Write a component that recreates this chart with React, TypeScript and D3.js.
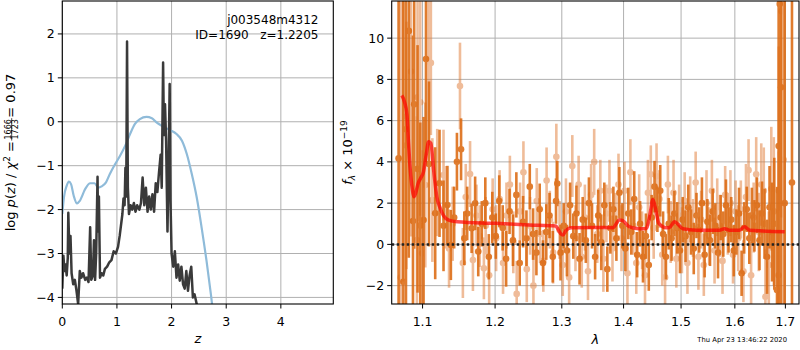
import { useEffect, useRef } from "react";
import * as d3 from "d3";

const W = 800;
const H = 350;
const FONT = "DejaVu Sans, sans-serif";

// p(z) 패널 — 파란선 (log p(z))
const pzZ = [0, 0.03, 0.08, 0.12, 0.16, 0.21, 0.27, 0.32, 0.42, 0.51, 0.59, 0.66, 0.72, 0.8, 0.87, 0.96, 1.06, 1.15, 1.24, 1.33, 1.42, 1.54, 1.64, 1.73, 1.85, 1.97, 2.09, 2.19, 2.28, 2.37, 2.46, 2.55, 2.64, 2.72, 2.77];
const pzLog = [-2.1, -1.72, -1.46, -1.36, -1.42, -1.69, -1.86, -1.8, -1.53, -1.4, -1.4, -1.5, -1.47, -1.38, -1.19, -0.98, -0.77, -0.55, -0.28, -0.05, 0.06, 0.11, 0.08, -0.02, -0.11, -0.19, -0.28, -0.43, -0.74, -1.19, -1.72, -2.41, -3.17, -3.93, -4.46];

// 검은선 (chi2 기반)
const chiZ = [0, 0.02, 0.04, 0.06, 0.08, 0.1, 0.11, 0.13, 0.15, 0.17, 0.2, 0.23, 0.26, 0.29, 0.32, 0.35, 0.38, 0.42, 0.45, 0.48, 0.51, 0.53, 0.56, 0.58, 0.6, 0.62, 0.645, 0.655, 0.67, 0.69, 0.72, 0.75, 0.78, 0.82, 0.86, 0.9, 0.94, 0.98, 1.02, 1.05, 1.08, 1.1, 1.12, 1.14, 1.155, 1.17, 1.185, 1.2, 1.22, 1.25, 1.28, 1.31, 1.34, 1.37, 1.41, 1.44, 1.47, 1.5, 1.53, 1.56, 1.59, 1.62, 1.65, 1.68, 1.71, 1.74, 1.77, 1.8, 1.82, 1.845, 1.86, 1.88, 1.9, 1.925, 1.945, 1.965, 1.98, 2.0, 2.03, 2.06, 2.09, 2.12, 2.15, 2.18, 2.21, 2.24, 2.27, 2.3, 2.33, 2.36, 2.39, 2.42, 2.46, 2.5];
const chiLog = [-3.8, -3.05, -3.4, -3.25, -3.5, -3.1, -2.07, -3.0, -2.6, -3.45, -3.7, -3.6, -3.85, -4.15, -3.4, -3.55, -3.45, -3.6, -3.55, -3.65, -2.4, -3.6, -3.5, -2.7, -3.6, -3.0, -1.25, -2.5, -1.7, -3.55, -3.45, -3.5, -3.35, -3.3, -3.2, -3.15, -2.95, -3.0, -2.85, -2.6, -2.3, -2.1, -1.75, -1.9, -1.05, -1.7, 1.83, -1.5, -2.1, -1.9, -2.0, -1.85, -2.05, -1.9, -2.0, -1.85, -1.27, -1.9, -1.5, -2.05, -1.7, -2.0, -1.65, -2.05, -1.4, -1.6, -1.15, -0.75, -1.5, 1.35, -0.3, 0.4, -0.45, -2.5, -1.0, 0.86, -1.8, -3.0, -3.3, -2.95, -3.55, -3.25, -3.62, -3.3, -3.7, -3.8, -3.4, -3.85, -3.5, -3.3, -4.0, -3.93, -4.15, -4.4];

const zTicks = [0, 1, 2, 3, 4];
const logTicks = [-4, -3, -2, -1, 0, 1, 2];

// 스펙트럼 패널 — 모델 (빨간선)
const modelWave = [1.073, 1.0765, 1.0796, 1.0815, 1.0835, 1.0865, 1.0885, 1.091, 1.0945, 1.0973, 1.1013, 1.105, 1.108, 1.111, 1.1147, 1.119, 1.1235, 1.128, 1.135, 1.1466, 1.2006, 1.2497, 1.2903, 1.298, 1.3016, 1.3068, 1.3146, 1.3548, 1.3821, 1.3932, 1.3988, 1.41, 1.427, 1.4385, 1.4454, 1.45, 1.4547, 1.4605, 1.4734, 1.4793, 1.4882, 1.4942, 1.5032, 1.5275, 1.5708, 1.5803, 1.5898, 1.609, 1.6187, 1.6284, 1.6546, 1.6985];
const modelFlux = [7.23, 6.9, 6.28, 5.0, 3.8, 2.7, 2.31, 2.5, 3.0, 3.2, 3.53, 4.4, 4.98, 4.9, 3.6, 2.3, 1.76, 1.4, 1.18, 1.1, 1.02, 0.94, 0.89, 0.53, 0.45, 0.69, 0.81, 0.82, 0.81, 1.18, 1.15, 0.85, 0.76, 0.77, 1.5, 2.18, 1.74, 1.02, 0.81, 0.82, 1.1, 0.98, 0.76, 0.69, 0.69, 0.76, 0.69, 0.69, 0.85, 0.69, 0.65, 0.61];

// 데이터 점 [λ, flux, err] — 진한 주황
const darkPoints: [number, number, number][] = [
  [1.0688, 4.17, 16], [1.0749, -1.81, 14], [1.0783, 5.58, 12], [1.082, 10.35, 11], [1.0874, 1.13, 9], [1.089, 6.79, 7],
  [1.0934, 3.66, 6], [1.097, 0.91, 5], [1.1013, 1.18, 5], [1.1045, 8.99, 5], [1.1085, 3.9, 4], [1.1168, 1.51, 3.2],
  [1.1226, 2.96, 2.6], [1.128, 0.9, 2.2], [1.1333, 1.91, 1.9], [1.138, -0.03, 1.7], [1.1425, 1.3, 1.5], [1.1463, 4.01, 1.4],
  [1.152, 4.61, 1.5], [1.1565, 0.3, 1.3], [1.1605, 1.5, 1.3], [1.1667, 0.78, 1.2], [1.1716, 1.99, 1.3], [1.176, -0.35, 1.2],
  [1.181, 1.0, 1.1], [1.186, 2.0, 1.25], [1.191, -0.6, 1.1], [1.196, 1.3, 1.25], [1.201, 0.4, 1.1], [1.206, 2.1, 1.25],
  [1.211, 0.8, 1.1], [1.216, -0.7, 1.35], [1.221, 1.6, 1.1], [1.226, 0.2, 1.25], [1.231, 2.4, 1.1], [1.236, -0.9, 1.1],
  [1.241, 1.1, 1.25], [1.246, 0.3, 1.35], [1.251, 2.8, 1.1], [1.256, 0.5, 1.25], [1.261, -0.4, 1.1], [1.266, 1.7, 1.25],
  [1.271, -0.9, 1.1], [1.276, 0.6, 1.35], [1.281, 1.4, 1.1], [1.286, -0.6, 1.25], [1.291, 2.1, 1.1], [1.293, 2.95, 1.1],
  [1.298, -0.4, 1.35], [1.303, 0.9, 1.1], [1.308, -0.3, 1.25], [1.313, 1.9, 1.1], [1.318, 0.4, 1.1], [1.323, 1.5, 1.35],
  [1.328, -0.7, 1.25], [1.333, 1.2, 1.1], [1.338, 0.2, 1.1], [1.343, 2.0, 1.25], [1.348, 0.9, 1.1], [1.353, -0.6, 1.1],
  [1.358, 1.4, 1.25], [1.363, 0.1, 1.35], [1.368, 1.9, 1.1], [1.373, -1.2, 1.1], [1.378, 0.8, 1.25], [1.383, 1.7, 1.1],
  [1.388, 0.3, 1.1], [1.393, 2.5, 1.25], [1.398, 0.9, 1.1], [1.403, -0.2, 1.1], [1.408, 1.5, 1.25], [1.413, 0.6, 1.1],
  [1.418, 2.2, 1.35], [1.423, -0.5, 1.1], [1.428, 1.0, 1.1], [1.433, -0.6, 1.25], [1.438, 0.4, 1.1], [1.443, -1.0, 1.25],
  [1.448, 1.3, 1.1], [1.453, 2.8, 1.25], [1.458, 1.7, 1.1], [1.463, 2.6, 1.25], [1.468, 0.5, 1.1], [1.473, -0.6, 1.1],
  [1.478, 1.0, 1.25], [1.483, 0.3, 1.1], [1.488, 1.5, 1.1], [1.493, 0.8, 1.25], [1.498, -0.3, 1.1], [1.503, 1.2, 1.1],
  [1.508, 0.4, 1.25], [1.513, 1.8, 1.1], [1.518, 0.6, 1.1], [1.523, -0.2, 1.25], [1.528, 1.4, 1.1], [1.533, 0.7, 1.1],
  [1.538, 2.0, 1.25], [1.543, -0.5, 1.1], [1.548, 1.1, 1.1], [1.553, 0.2, 1.25], [1.558, 1.6, 1.1], [1.563, 0.9, 1.1],
  [1.568, -0.4, 1.25], [1.573, 1.3, 1.1], [1.578, 0.5, 1.1], [1.583, 1.9, 1.25], [1.588, 0.7, 1.1], [1.593, 1.2, 1.1],
  [1.598, -0.3, 1.25], [1.603, 0.6, 1.1], [1.608, 1.5, 1.25], [1.613, -1.4, 1.1], [1.618, 0.8, 1.25], [1.623, 1.7, 1.1],
  [1.628, 0.3, 1.25], [1.633, 1.4, 1.35], [1.638, 0.9, 1.25], [1.643, 1.9, 1.35], [1.648, 0.2, 1.45], [1.653, 1.5, 1.55],
  [1.658, 1.0, 1.7], [1.663, -0.6, 1.8], [1.668, 1.8, 2.0], [1.673, 0.6, 2.4], [1.6775, 1.0, 3.2], [1.683, -2.21, 5],
  [1.6863, 4.77, 8], [1.6885, 11.66, 10], [1.6912, 7.62, 12], [1.6985, 2.0, 15], [1.7135, 3.0, 20],
];

// 연한 주황
const lightPoints: [number, number, number][] = [
  [1.0715, -1.6, 14], [1.0745, 6.2, 8], [1.079, 4.8, 6], [1.0848, 8.38, 8], [1.0926, 0.21, 6], [1.0934, 7.13, 6],
  [1.097, 6.89, 5.5], [1.0995, -0.43, 5], [1.1036, 2.88, 4], [1.108, 9.0, 4], [1.111, 8.8, 3.5], [1.113, 2.15, 3],
  [1.1195, 3.0, 2.6], [1.128, 3.36, 2.2], [1.131, 1.8, 2.0], [1.1355, -0.2, 1.9], [1.1405, 1.0, 1.8], [1.1505, 7.68, 2.1],
  [1.1545, -0.9, 1.7], [1.1585, 2.3, 1.6], [1.1645, 3.41, 1.6], [1.1685, -0.76, 1.5], [1.1735, 1.4, 1.5], [1.178, 0.4, 1.5],
  [1.184, -1.16, 1.5], [1.1865, 0.9, 1.4], [1.1915, -1.5, 1.4], [1.1965, 1.7, 1.5], [1.2015, 0.3, 1.6], [1.2065, 2.2, 1.4],
  [1.2115, -0.9, 1.5], [1.2165, 1.4, 1.6], [1.2215, 2.9, 1.4], [1.2265, 0.1, 1.5], [1.2315, -2.4, 1.6], [1.2365, 1.6, 1.4],
  [1.2415, 3.5, 1.5], [1.2465, -1.2, 1.6], [1.2515, 0.9, 1.4], [1.2565, -2.0, 1.5], [1.2615, 2.1, 1.6], [1.2665, 0.5, 1.4],
  [1.2715, -0.8, 1.5], [1.2765, 3.1, 1.6], [1.2815, 1.2, 1.4], [1.2865, -0.4, 1.5], [1.2915, 4.25, 1.6], [1.2965, 0.7, 1.4],
  [1.3015, -1.0, 1.5], [1.3065, 1.6, 1.6], [1.3115, -1.6, 1.4], [1.3165, 3.8, 1.5], [1.3215, 0.3, 1.6], [1.3265, 2.9, 1.4],
  [1.3315, -0.6, 1.5], [1.3365, 1.3, 1.6], [1.3415, -1.3, 1.4], [1.3465, 2.4, 1.5], [1.3515, 4.0, 1.6], [1.3565, 0.5, 1.4],
  [1.3615, 2.6, 1.5], [1.3665, -0.7, 1.6], [1.3715, 1.5, 1.4], [1.3765, 2.6, 1.5], [1.3815, -0.2, 1.6], [1.3865, 1.1, 1.4],
  [1.3915, 2.9, 1.5], [1.3965, 0.3, 1.6], [1.4015, 2.6, 1.4], [1.4065, -1.4, 1.5], [1.4115, 3.5, 1.6], [1.4165, 0.9, 1.4],
  [1.4215, -0.9, 1.5], [1.4265, 1.8, 1.6], [1.4315, 0.2, 1.4], [1.4365, -1.5, 1.5], [1.4415, 2.5, 1.6], [1.4465, 3.4, 1.4],
  [1.4515, 0.8, 1.5], [1.4565, 3.3, 1.6], [1.4615, 2.2, 1.4], [1.4665, -0.5, 1.5], [1.4715, -1.6, 1.6], [1.4765, 2.9, 1.4],
  [1.4815, 0.6, 1.5], [1.4865, 2.5, 1.6], [1.4915, -0.7, 1.4], [1.4965, 1.4, 1.5], [1.5015, 0.2, 1.6], [1.5065, 2.1, 1.4],
  [1.5115, -0.9, 1.5], [1.5165, 1.7, 1.6], [1.5215, 0.8, 1.4], [1.5265, 3.0, 1.5], [1.5315, -0.6, 1.6], [1.5365, 1.2, 1.4],
  [1.5415, -1.0, 1.5], [1.5465, 2.0, 1.6], [1.5515, 0.4, 1.4], [1.5565, 2.6, 1.5], [1.5615, -0.3, 1.6], [1.5665, 1.8, 1.4],
  [1.5715, 0.9, 1.5], [1.5765, -0.8, 1.6], [1.5815, 2.4, 1.4], [1.5865, 1.0, 1.5], [1.5915, 2.0, 1.6], [1.5965, -0.5, 1.4],
  [1.6015, 1.6, 1.5], [1.6065, 0.3, 1.6], [1.6115, 1.7, 1.4], [1.6165, -1.3, 1.5], [1.6215, 2.3, 1.6], [1.6265, 3.6, 1.5],
  [1.6315, -1.5, 1.6], [1.6365, 1.3, 1.7], [1.6415, 3.4, 1.8], [1.6465, 0.6, 1.9], [1.6515, 2.9, 2.0], [1.6565, 2.6, 2.1],
  [1.6597, -2.54, 2.3], [1.6665, -1.0, 2.6], [1.6715, 2.7, 3.0], [1.6765, 1.6, 3.6], [1.686, -1.5, 6], [1.6865, 2.6, 7],
  [1.692, 11.3, 10], [1.6965, 4.1, 12],
];

const waveTicks = [1.1, 1.2, 1.3, 1.4, 1.5, 1.6, 1.7];
const fluxTicks = [-2, 0, 2, 4, 6, 8, 10];

const fmtNum = (d: number) => (d < 0 ? "\u2212" + Math.abs(d) : String(d));

export default function App() {
  const svgRef = useRef<SVGSVGElement>(null);

  useEffect(() => {
    if (!svgRef.current) return;
    const svg = d3.select(svgRef.current);
    svg.selectAll("*").remove();
    svg.append("rect").attr("width", W).attr("height", H).attr("fill", "white");

    const L = { x0: 62.3, x1: 333.3, y0: 1, y1: 304 };
    const R = { x0: 391.7, x1: 799, y0: 1, y1: 304 };

    const defs = svg.append("defs");
    [["clipL", L], ["clipR", R]].forEach(([id, b]: any) => {
      defs.append("clipPath").attr("id", id).append("rect")
        .attr("x", b.x0).attr("y", b.y0).attr("width", b.x1 - b.x0).attr("height", b.y1 - b.y0);
    });

    const zx = d3.scaleLinear().domain([0, 4.96]).range([L.x0, L.x1]);
    const zy = d3.scaleLinear().domain([-4.15, 2.75]).range([L.y1, L.y0]);
    const lx = d3.scaleLog().domain([1.06, 1.728]).range([R.x0, R.x1]);
    const fy = d3.scaleLinear().domain([-2.89, 11.8]).range([R.y1, R.y0]);

    // 그리드
    const grid = (b: any, sx: any, xt: number[], sy: any, yt: number[]) => {
      const g = svg.append("g").attr("stroke", "#b0b0b0").attr("stroke-width", 1);
      g.selectAll("line.v").data(xt).join("line")
        .attr("x1", (d) => sx(d)).attr("x2", (d) => sx(d)).attr("y1", b.y0).attr("y2", b.y1);
      g.selectAll("line.h").data(yt).join("line")
        .attr("x1", b.x0).attr("x2", b.x1).attr("y1", (d) => sy(d)).attr("y2", (d) => sy(d));
    };
    grid(L, zx, zTicks, zy, logTicks);
    grid(R, lx, waveTicks, fy, fluxTicks);

    // 왼쪽: p(z)
    const gl = svg.append("g").attr("clip-path", "url(#clipL)");
    const pzLine = d3.line<number>().x((_, i) => zx(pzZ[i])).y((d) => zy(d)).curve(d3.curveMonotoneX);
    gl.append("path").datum(pzLog).attr("d", pzLine).attr("fill", "none")
      .attr("stroke", "#8fbbd9").attr("stroke-width", 2.2);
    const chiLine = d3.line<number>().x((_, i) => zx(chiZ[i])).y((d) => zy(d));
    gl.append("path").datum(chiLog).attr("d", chiLine).attr("fill", "none")
      .attr("stroke", "#3a3a3a").attr("stroke-width", 2.5).attr("stroke-linejoin", "round");

    // 오른쪽: 스펙트럼
    const gr = svg.append("g").attr("clip-path", "url(#clipR)");
    const drawPts = (pts: [number, number, number][], color: string, op: number) => {
      const g = gr.append("g").attr("opacity", op);
      g.selectAll("line").data(pts).join("line")
        .attr("x1", (d) => lx(d[0])).attr("x2", (d) => lx(d[0]))
        .attr("y1", (d) => fy(d[1] - d[2])).attr("y2", (d) => fy(d[1] + d[2]))
        .attr("stroke", color).attr("stroke-width", 2.6);
      g.selectAll("circle").data(pts).join("circle")
        .attr("cx", (d) => lx(d[0])).attr("cy", (d) => fy(d[1])).attr("r", 3.3).attr("fill", color);
    };
    drawPts(lightPoints, "#e07a35", 0.5);
    drawPts(darkPoints, "#dc6a12", 0.88);

    const modelLine = d3.line<number>().x((_, i) => lx(modelWave[i])).y((d) => fy(d)).curve(d3.curveMonotoneX);
    gr.append("path").datum(modelFlux).attr("d", modelLine).attr("fill", "none")
      .attr("stroke", "red").attr("stroke-opacity", 0.7).attr("stroke-width", 3.5);
    gr.append("line").attr("x1", R.x0).attr("x2", R.x1).attr("y1", fy(0)).attr("y2", fy(0))
      .attr("stroke", "#222").attr("stroke-width", 2.5).attr("stroke-dasharray", "2.5,2.5");

    // 축
    const axes = (b: any, sx: any, xt: number[], fx: (d: number) => string, sy: any, yt: number[]) => {
      const g = svg.append("g").style("font-family", FONT).style("font-size", "12.5px");
      g.selectAll("line.xt").data(xt).join("line")
        .attr("x1", (d) => sx(d)).attr("x2", (d) => sx(d)).attr("y1", b.y1).attr("y2", b.y1 + 4.5)
        .attr("stroke", "black");
      g.selectAll("text.xt").data(xt).join("text")
        .attr("x", (d) => sx(d)).attr("y", b.y1 + 21.5).attr("text-anchor", "middle").text(fx);
      g.selectAll("line.yt").data(yt).join("line")
        .attr("x1", b.x0 - 4.5).attr("x2", b.x0).attr("y1", (d) => sy(d)).attr("y2", (d) => sy(d))
        .attr("stroke", "black");
      g.selectAll("text.yt").data(yt).join("text")
        .attr("x", b.x0 - 7.5).attr("y", (d) => sy(d)).attr("dy", "0.36em").attr("text-anchor", "end").text(fmtNum);
      g.append("rect").attr("x", b.x0).attr("y", b.y0).attr("width", b.x1 - b.x0).attr("height", b.y1 - b.y0)
        .attr("fill", "none").attr("stroke", "black").attr("stroke-width", 1.1);
    };
    axes(L, zx, zTicks, (d) => String(d), zy, logTicks);
    axes(R, lx, waveTicks, (d) => d.toFixed(1), fy, fluxTicks);

    // 텍스트
    const txt = svg.append("g").style("font-family", FONT);
    txt.append("text").attr("x", 318.5).attr("y", 24).attr("text-anchor", "end").style("font-size", "12px").text("j003548m4312");
    txt.append("text").attr("x", 318.5).attr("y", 38.5).attr("text-anchor", "end").style("font-size", "12px")
      .style("white-space", "pre").text("ID=1690   z=1.2205");
    txt.append("text").attr("x", (L.x0 + L.x1) / 2).attr("y", 343).attr("text-anchor", "middle")
      .style("font-size", "13px").style("font-style", "italic").text("z");
    txt.append("text").attr("x", (R.x0 + R.x1) / 2).attr("y", 344).attr("text-anchor", "middle")
      .style("font-size", "13px").style("font-style", "italic").text("λ");
    txt.append("text").attr("x", 787).attr("y", 342).attr("text-anchor", "end").style("font-size", "6.8px")
      .text("Thu Apr 23 13:46:22 2020");

    // 왼쪽 y 라벨 (분수 포함)
    const yl = txt.append("g").attr("transform", `translate(14.5,${(L.y0 + L.y1) / 2}) rotate(-90)`);
    const inner = yl.append("g").style("font-size", "13px").style("white-space", "pre");
    const t1 = inner.append("text").attr("x", 0).attr("y", 0);
    t1.append("tspan").text("log ");
    t1.append("tspan").style("font-style", "italic").text("p");
    t1.append("tspan").text("(");
    t1.append("tspan").style("font-style", "italic").text("z");
    t1.append("tspan").text(") / ");
    t1.append("tspan").style("font-style", "italic").text("χ");
    t1.append("tspan").style("font-size", "9px").attr("dy", -5).text("2");
    t1.append("tspan").attr("dy", 5).text(" = ");
    const w1 = (t1.node() as SVGTextElement).getComputedTextLength();
    const num = inner.append("text").attr("y", -3.8).style("font-size", "8px").attr("text-anchor", "middle").text("1666");
    const fw = (num.node() as SVGTextElement).getComputedTextLength() + 3;
    num.attr("x", w1 + fw / 2);
    inner.append("text").attr("x", w1 + fw / 2).attr("y", 3.3).style("font-size", "8px").attr("text-anchor", "middle").text("1723");
    inner.append("line").attr("x1", w1 + 0.5).attr("x2", w1 + fw - 0.5).attr("y1", -2.8).attr("y2", -2.8)
      .attr("stroke", "black").attr("stroke-width", 0.7);
    const t3 = inner.append("text").attr("x", w1 + fw).attr("y", 0).text(" = 0.97");
    const total = w1 + fw + (t3.node() as SVGTextElement).getComputedTextLength();
    inner.attr("transform", `translate(${-total / 2},0)`);

    // 오른쪽 y 라벨
    const yr = txt.append("text").attr("transform", `translate(352,${(R.y0 + R.y1) / 2}) rotate(-90)`)
      .attr("text-anchor", "middle").style("font-size", "13px").style("white-space", "pre");
    yr.append("tspan").style("font-style", "italic").text("f");
    yr.append("tspan").style("font-style", "italic").style("font-size", "9px").attr("dy", 3).text("λ");
    yr.append("tspan").attr("dy", -3).text(" × 10");
    yr.append("tspan").style("font-size", "9px").attr("dy", -5.5).text("\u221219");
  }, []);

  return (
    <svg ref={svgRef} width={W} height={H} style={{ position: "absolute", left: 0, top: 0 }} />
  );
}
